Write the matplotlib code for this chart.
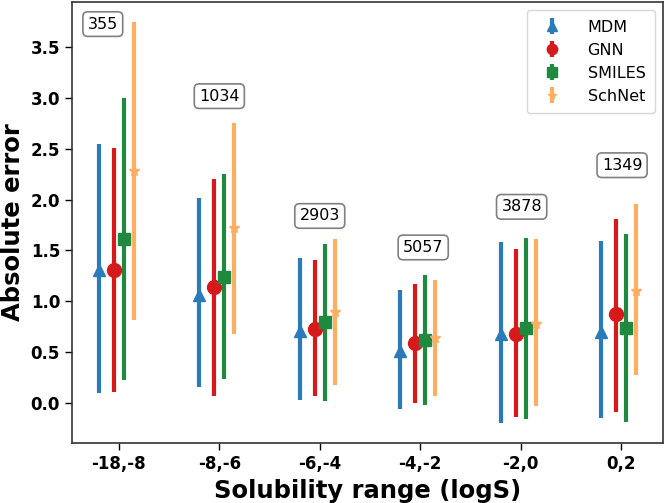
import numpy as np
import matplotlib
matplotlib.use("Agg")
import matplotlib.pyplot as plt

ranges = ["-18,-8", "-8,-6", "-6,-4", "-4,-2", "-2,0", "0,2"]
counts = ["355", "1034", "2903", "5057", "3878", "1349"]
count_x = [-0.16, 0.0, 0.0, 0.03, 0.01, 0.01]
count_y = [3.73, 3.02, 1.84, 1.53, 1.93, 2.34]

models = ["MDM", "GNN", "SMILES", "SchNet"]

mdm_mid = [1.31, 1.06, 0.71, 0.51, 0.68, 0.70]
mdm_lo = [0.10, 0.16, 0.03, -0.06, -0.20, -0.15]
mdm_hi = [2.55, 2.02, 1.43, 1.11, 1.58, 1.59]

gnn_mid = [1.31, 1.14, 0.73, 0.59, 0.68, 0.87]
gnn_lo = [0.11, 0.07, 0.07, 0.00, -0.14, -0.09]
gnn_hi = [2.51, 2.20, 1.41, 1.17, 1.51, 1.81]

smiles_mid = [1.61, 1.24, 0.80, 0.62, 0.74, 0.74]
smiles_lo = [0.22, 0.23, 0.02, -0.02, -0.16, -0.19]
smiles_hi = [3.00, 2.25, 1.56, 1.26, 1.62, 1.66]

schnet_mid = [2.28, 1.72, 0.89, 0.64, 0.78, 1.10]
schnet_lo = [0.82, 0.68, 0.18, 0.07, -0.03, 0.27]
schnet_hi = [3.75, 2.76, 1.61, 1.21, 1.61, 1.96]

series = [
    (mdm_mid, mdm_lo, mdm_hi, "#2b7bba", "^", 9, -0.2),
    (gnn_mid, gnn_lo, gnn_hi, "#d7191c", "o", 10, -0.05),
    (smiles_mid, smiles_lo, smiles_hi, "#1f8a3f", "s", 9, 0.05),
    (schnet_mid, schnet_lo, schnet_hi, "#fdae61", "*", 8, 0.15),
]

fig = plt.figure(figsize=(6.66, 5.03), dpi=100)
ax = fig.add_axes([0.108, 0.119, 0.8875, 0.877])

x = np.arange(len(ranges))
for name, (mid, lo, hi, col, mk, ms, off) in zip(models, series):
    mid = np.array(mid)
    err = [mid - np.array(lo), np.array(hi) - mid]
    ax.errorbar(x + off, mid, yerr=err, fmt=mk, color=col, ms=ms,
                elinewidth=3, capsize=0, label=name)

for i, (cx, cy, txt) in enumerate(zip(count_x, count_y, counts)):
    ax.text(x[i] + cx, cy, txt, ha="center", va="center", fontsize=11.5,
            bbox=dict(boxstyle="round,pad=0.3", fc="white", ec="gray", lw=1.2))

ax.set_xticks(x)
ax.set_xticklabels(ranges, fontsize=12, fontweight="bold")
ax.set_yticks([0.0, 0.5, 1.0, 1.5, 2.0, 2.5, 3.0, 3.5])
for lab in ax.get_yticklabels():
    lab.set_fontsize(12)
    lab.set_fontweight("bold")
ax.tick_params(length=5, width=1)
for s in ax.spines.values():
    s.set_linewidth(1.2)
    s.set_color("#333333")

ax.set_xlabel("Solubility range (logS)", fontsize=17.5, fontweight="bold")
ax.set_ylabel("Absolute error", fontsize=17.5, fontweight="bold")
ax.legend(loc="upper right", fontsize=11.5, borderpad=0.6, labelspacing=0.5,
          handletextpad=1.2, markerscale=0.75)

fig.savefig("out.png", dpi=100)
